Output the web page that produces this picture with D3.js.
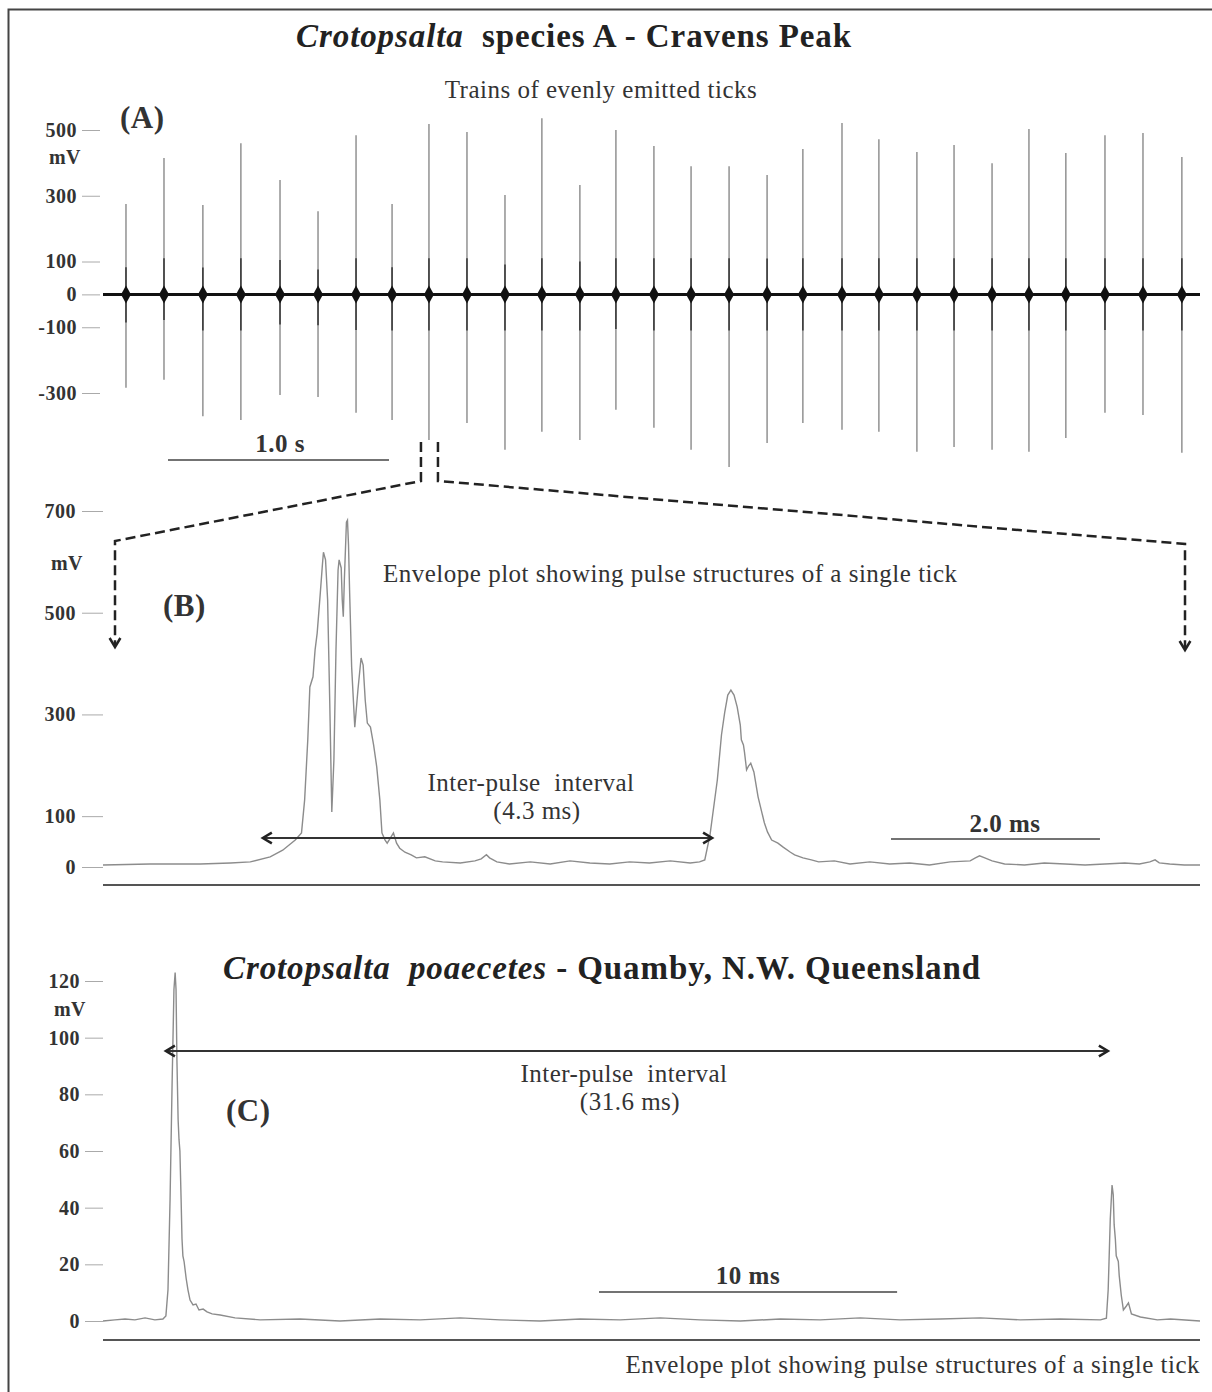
<!DOCTYPE html>
<html><head><meta charset="utf-8">
<script src="https://cdn.jsdelivr.net/npm/d3@7"></script>
<style>body{margin:0;background:#fff}svg{display:block}text{font-family:"Liberation Serif","Times New Roman",serif}</style>
</head><body><svg id="c" width="1212" height="1392"></svg>
<script>
// ---------- Panel A: tick train (seconds, mV) ----------
const spikeTimes = [0.104,0.276,0.452,0.624,0.801,0.973,1.145,1.308,1.475,1.647,1.819,1.986,2.158,2.321,2.493,2.661,2.833,3.005,3.167,3.344,3.511,3.683,3.851,4.023,4.190,4.357,4.534,4.706,4.882];
const spikeMax = [275,415,272,460,348,253,484,275,518,494,302,536,333,500,451,390,390,363,442,521,472,433,454,399,503,430,484,491,418];
const spikeMin = [-284,-260,-371,-382,-306,-312,-360,-382,-443,-391,-473,-418,-443,-351,-406,-473,-525,-452,-391,-412,-418,-479,-464,-473,-479,-437,-360,-367,-482];
const ticksA = [500,300,100,0,-100,-300];

// ---------- Panel B: envelope (ms, mV) ----------
const envB_t = [0,0.45,0.93,1.22,1.41,1.60,1.72,1.84,1.90,1.93,1.96,1.98,2.01,2.03,2.05,2.08,2.10,2.11,2.13,2.15,2.17,2.19,2.21,2.23,2.25,2.26,2.28,2.29,2.30,2.31,2.33,2.34,2.35,2.36,2.38,2.41,2.44,2.47,2.49,2.51,2.53,2.56,2.59,2.62,2.65,2.67,2.70,2.72,2.75,2.78,2.81,2.84,2.89,2.95,3.00,3.08,3.18,3.25,3.42,3.56,3.62,3.67,3.70,3.77,3.89,4.09,4.28,4.47,4.66,4.85,5.04,5.23,5.43,5.62,5.71,5.76,5.81,5.88,5.92,5.95,5.98,6.01,6.04,6.07,6.10,6.11,6.13,6.14,6.16,6.18,6.20,6.23,6.27,6.33,6.36,6.40,6.46,6.51,6.58,6.62,6.70,6.78,6.85,7.00,7.15,7.34,7.53,7.72,7.91,8.11,8.30,8.35,8.39,8.44,8.51,8.63,8.82,9.01,9.21,9.40,9.59,9.78,9.92,10.02,10.07,10.11,10.21,10.35,10.50];
const envB_mV = [4,6,6,8,10,20,33,53,67,132,250,354,374,427,460,539,594,619,604,525,328,108,210,427,584,604,588,525,492,564,678,682,633,545,393,275,348,411,397,328,283,275,240,197,132,67,53,47,57,67,47,37,29,24,18,20,12,10,8,12,16,24,18,10,6,10,6,12,8,6,10,8,12,8,10,14,63,171,260,303,338,348,338,315,279,250,240,226,191,199,204,187,138,87,69,53,47,39,29,24,18,14,10,12,6,10,6,8,4,10,12,18,22,18,12,6,4,8,6,4,6,8,6,10,14,8,6,4,4];
const ticksB = [700,500,300,100,0];

// ---------- Panel C: envelope (ms, mV) ----------
const envC_t = [0,0.40,0.74,1.07,1.41,1.74,2.01,2.11,2.18,2.25,2.32,2.38,2.42,2.45,2.48,2.52,2.55,2.58,2.62,2.65,2.68,2.72,2.79,2.85,2.92,3.02,3.12,3.22,3.36,3.49,3.66,3.93,4.43,5.27,6.61,7.95,9.30,10.64,11.98,13.32,14.66,16.01,17.35,18.69,20.03,21.38,22.72,24.06,25.40,26.74,28.09,29.43,30.77,32.11,33.46,33.66,33.72,33.79,33.85,33.89,33.92,33.96,33.99,34.06,34.09,34.16,34.23,34.33,34.40,34.50,34.80,35.37,35.81,36.80];
const envC_mV = [0,0.4,0.7,0.4,1.1,0.4,0.7,1.8,11,43,85,117,123,117,92,71,64,60,43,29,23,21,15,11,7.4,5.7,6,3.9,4.2,3.2,2.5,2.1,1.1,0.4,0.7,0,0.7,0.4,1.1,0.4,0,0.7,0.4,1.1,0.4,0,0.7,0.4,1.1,0.4,0.7,1.1,0.4,0.7,0.4,1,11,36,48,44.5,34,29,23,21,16,9,3.9,5.3,6.4,2.5,1.4,0.4,0.7,0];
const ticksC = [120,100,80,60,40,20,0];

const svg = d3.select("#c");

// frame
svg.append("rect").attr("x",8.5).attr("y",9.5).attr("width",1230).attr("height",1400)
  .attr("fill","none").attr("stroke","#444").attr("stroke-width",2);

function txt(x,y,s,opt={}){
  return svg.append("text").attr("x",x).attr("y",y).text(s)
    .attr("font-size",opt.size||25).attr("font-weight",opt.bold?"bold":"normal")
    .attr("font-style",opt.italic?"italic":"normal")
    .attr("letter-spacing",opt.ls!==undefined?opt.ls:0.5)
    .attr("text-anchor",opt.anchor||"start").attr("fill",opt.fill||"#333");
}
function styleAxis(g){
  g.select(".domain").remove();
  g.selectAll(".tick line").attr("stroke","#aaa").attr("stroke-width",1);
  g.selectAll(".tick text").attr("font-family","Liberation Serif, serif").attr("font-size",20)
    .attr("font-weight","bold").attr("fill","#333").attr("letter-spacing",0.5);
}
function chevron(x,y,dir,size=9){
  const p = d3.path();
  if(dir==="left"){p.moveTo(x+size,y-size*0.6);p.lineTo(x,y);p.lineTo(x+size,y+size*0.6);}
  if(dir==="right"){p.moveTo(x-size,y-size*0.6);p.lineTo(x,y);p.lineTo(x-size,y+size*0.6);}
  if(dir==="down"){p.moveTo(x-size*0.6,y-size);p.lineTo(x,y);p.lineTo(x+size*0.6,y-size);}
  svg.append("path").attr("d",p.toString()).attr("fill","none").attr("stroke","#222").attr("stroke-width",2.5);
}
const fmt = d => String(d);

// titles
const t1 = svg.append("text").attr("x",574).attr("y",47).attr("text-anchor","middle")
  .attr("font-size",33).attr("font-weight","bold").attr("fill","#222").attr("letter-spacing",0.9).attr("xml:space","preserve");
t1.append("tspan").attr("font-style","italic").text("Crotopsalta");
t1.append("tspan").text("  species A - Cravens Peak");
txt(601,98,"Trains of evenly emitted ticks",{anchor:"middle"});
txt(120,128,"(A)",{bold:true,size:31,fill:"#333",ls:0.5});

// ---------- Panel A ----------
const xA = d3.scaleLinear([0,4.964],[103,1200]);
const yA = d3.scaleLinear([-300,500],[393,130]);
styleAxis(svg.append("g").attr("transform","translate(100,0)")
  .call(d3.axisLeft(yA).tickValues(ticksA).tickFormat(fmt).tickSize(18).tickPadding(5)));
txt(65,164,"mV",{bold:true,size:20,anchor:"middle"});

const spikes = svg.append("g");
spikeTimes.forEach((t,i)=>{
  const x = xA(t);
  spikes.append("line").attr("x1",x).attr("x2",x).attr("y1",yA(spikeMax[i])).attr("y2",yA(spikeMin[i]))
    .attr("stroke","#808080").attr("stroke-width",1.3);
  spikes.append("line").attr("x1",x).attr("x2",x).attr("y1",yA(Math.min(110,spikeMax[i]*0.3))).attr("y2",yA(Math.max(-110,spikeMin[i]*0.3)))
    .attr("stroke","#333").attr("stroke-width",1.5);
  const y0 = yA(0);
  spikes.append("path").attr("d",`M${x-5},${y0} L${x},${y0-9} L${x+5},${y0} L${x},${y0+9} Z`).attr("fill","#111");
});
svg.append("line").attr("x1",xA(0)).attr("x2",xA(4.964)).attr("y1",yA(0)).attr("y2",yA(0))
  .attr("stroke","#111").attr("stroke-width",3);

// 1.0 s scale bar
svg.append("line").attr("x1",168).attr("x2",168+xA(1)-xA(0)).attr("y1",460).attr("y2",460).attr("stroke","#444").attr("stroke-width",1.5);
txt(280,452,"1.0 s",{bold:true,size:25,anchor:"middle"});

// zoom indicator (dashed)
const zx = xA(spikeTimes[8]);
const dash = svg.append("g").attr("fill","none").attr("stroke","#222").attr("stroke-width",2.5).attr("stroke-dasharray","10,5");
dash.append("path").attr("d",`M${zx-8},442 L${zx-8},481 L115,541 L115,645`);
dash.append("path").attr("d",`M${zx+9},442 L${zx+9},481 L1185,544 L1185,648`);
chevron(115,647,"down");
chevron(1185,650,"down");

// ---------- Panel B ----------
const xB = d3.scaleLinear([0,10.5],[103,1200]);
const yB = d3.scaleLinear([0,700],[867,511]);
styleAxis(svg.append("g").attr("transform","translate(103,0)")
  .call(d3.axisLeft(yB).tickValues(ticksB).tickFormat(fmt).tickSize(21).tickPadding(6)));
txt(67,570,"mV",{bold:true,size:20,anchor:"middle"});
txt(163,616,"(B)",{bold:true,size:31,fill:"#333"});
txt(383,582,"Envelope plot showing pulse structures of a single tick");
svg.append("path").datum(envB_t.map((t,i)=>[t,envB_mV[i]]))
  .attr("d",d3.line().x(d=>xB(d[0])).y(d=>yB(d[1])))
  .attr("fill","none").attr("stroke","#8c8c8c").attr("stroke-width",1.4);
svg.append("line").attr("x1",103).attr("x2",1200).attr("y1",885).attr("y2",885).attr("stroke","#555").attr("stroke-width",1.8);
// interval arrow 4.3 ms
const bA0 = xB(1.53), bA1 = xB(1.53+4.3);
svg.append("line").attr("x1",bA0).attr("x2",bA1).attr("y1",838).attr("y2",838).attr("stroke","#333").attr("stroke-width",2.2);
chevron(bA0,838,"left");
chevron(bA1,838,"right");
txt(531,791,"Inter-pulse\u00a0\u00a0interval",{anchor:"middle"});
txt(537,819,"(4.3 ms)",{anchor:"middle"});
// 2.0 ms scale bar
svg.append("line").attr("x1",891).attr("x2",891+xB(2)-xB(0)).attr("y1",839).attr("y2",839).attr("stroke","#444").attr("stroke-width",1.5);
txt(1005,832,"2.0 ms",{bold:true,size:25,anchor:"middle"});

// ---------- Panel C ----------
const t2 = svg.append("text").attr("x",602).attr("y",979).attr("text-anchor","middle")
  .attr("font-size",33).attr("font-weight","bold").attr("fill","#222").attr("letter-spacing",0.9).attr("xml:space","preserve");
t2.append("tspan").attr("font-style","italic").text("Crotopsalta  poaecetes");
t2.append("tspan").text(" - Quamby, N.W. Queensland");

const xC = d3.scaleLinear([0,36.8],[103,1200]);
const yC = d3.scaleLinear([0,120],[1321,981]);
styleAxis(svg.append("g").attr("transform","translate(103,0)")
  .call(d3.axisLeft(yC).tickValues(ticksC).tickFormat(fmt).tickSize(18).tickPadding(5)));
txt(70,1016,"mV",{bold:true,size:20,anchor:"middle"});
txt(226,1121,"(C)",{bold:true,size:31,fill:"#333"});
svg.append("path").datum(envC_t.map((t,i)=>[t,envC_mV[i]]))
  .attr("d",d3.line().x(d=>xC(d[0])).y(d=>yC(d[1])))
  .attr("fill","none").attr("stroke","#8c8c8c").attr("stroke-width",1.4);
svg.append("line").attr("x1",103).attr("x2",1200).attr("y1",1340).attr("y2",1340).attr("stroke","#555").attr("stroke-width",1.8);
const cA0 = xC(2.11), cA1 = xC(2.11+31.6);
svg.append("line").attr("x1",cA0).attr("x2",cA1).attr("y1",1051).attr("y2",1051).attr("stroke","#333").attr("stroke-width",2.2);
chevron(cA0,1051,"left");
chevron(cA1,1051,"right");
txt(624,1082,"Inter-pulse\u00a0\u00a0interval",{anchor:"middle"});
txt(630,1110,"(31.6 ms)",{anchor:"middle"});
svg.append("line").attr("x1",599).attr("x2",599+xC(10)-xC(0)).attr("y1",1292).attr("y2",1292).attr("stroke","#444").attr("stroke-width",1.5);
txt(748,1284,"10 ms",{bold:true,size:25,anchor:"middle"});
txt(1200,1373,"Envelope plot showing pulse structures of a single tick",{anchor:"end"});
</script></body></html>
